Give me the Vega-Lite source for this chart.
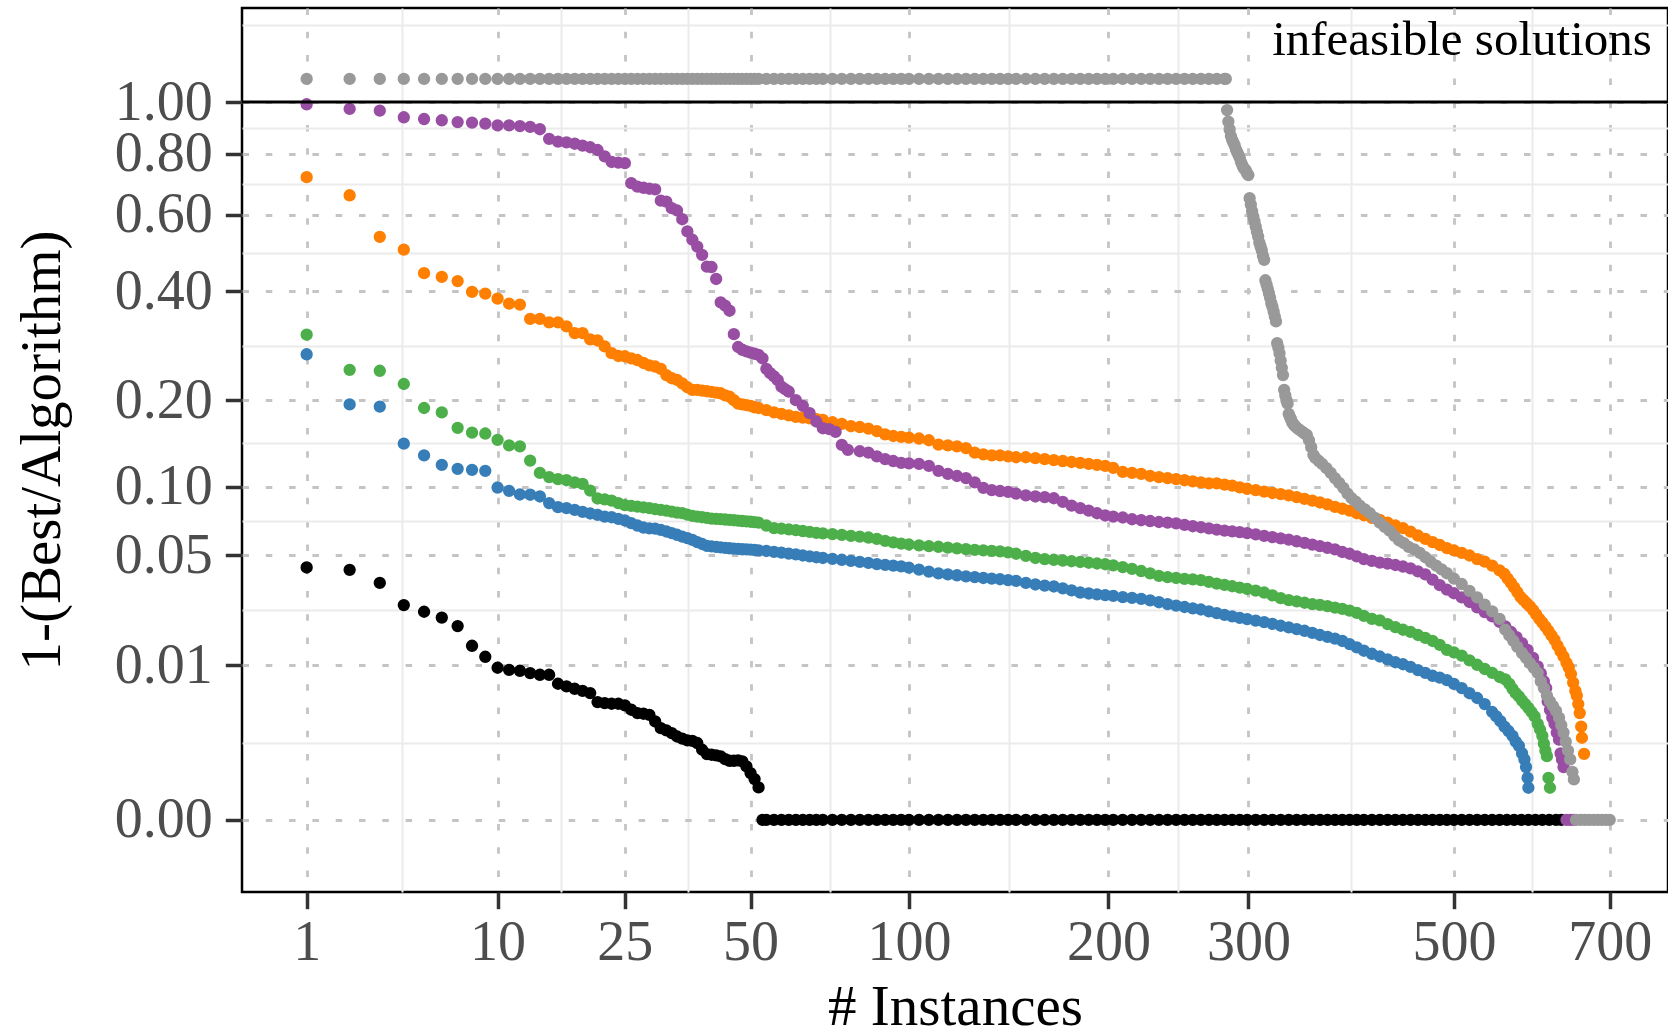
{
"$schema":"https://vega.github.io/schema/vega-lite/v6.json",
"width":1426,"height":884,
"autosize":{"type":"none"},
"padding":{"left":242,"top":8,"right":0,"bottom":141},
"background":"white",
"config":{"view":{"stroke":"#000000","strokeWidth":2.5}},
"datasets":{
"k":[{"x":1,"y":0.0435},{"x":2,"y":0.0423},{"x":3,"y":0.036},{"x":4,"y":0.0268},{"x":5,"y":0.0244},{"x":6,"y":0.0224},{"x":7,"y":0.0197},{"x":8,"y":0.01428},{"x":9,"y":0.01174},{"x":10,"y":0.00953},{"x":11,"y":0.00915},{"x":12,"y":0.00897},{"x":13,"y":0.00856},{"x":14,"y":0.00827},{"x":15,"y":0.00827},{"x":16,"y":0.00683},{"x":17,"y":0.00643},{"x":18,"y":0.0061},{"x":19,"y":0.00582},{"x":20,"y":0.00552},{"x":21,"y":0.00443},{"x":22,"y":0.00431},{"x":23,"y":0.00424},{"x":24,"y":0.00424},{"x":25,"y":0.00406},{"x":26,"y":0.00362},{"x":27,"y":0.0033},{"x":28,"y":0.00324},{"x":29,"y":0.00314},{"x":30,"y":0.00258},{"x":31,"y":0.00209},{"x":32,"y":0.00194},{"x":33,"y":0.00177},{"x":34,"y":0.00157},{"x":35,"y":0.00145},{"x":36,"y":0.00136},{"x":37,"y":0.00134},{"x":38,"y":0.00123},{"x":39,"y":0.000935},{"x":40,"y":0.000772},{"x":41,"y":0.00075},{"x":42,"y":0.000725},{"x":43,"y":0.000692},{"x":44,"y":0.00061},{"x":45,"y":0.00056},{"x":46,"y":0.00056},{"x":47,"y":0.00057},{"x":48,"y":0.00054},{"x":49,"y":0.000414},{"x":50,"y":0.000278},{"x":51,"y":0.000184},{"x":52,"y":0.000093},
{"x":53,"y":0},{"x":54,"y":0},{"x":56,"y":0},{"x":58,"y":0},{"x":60,"y":0},{"x":62,"y":0},{"x":64,"y":0},{"x":66,"y":0},{"x":68,"y":0},{"x":70,"y":0},{"x":73,"y":0},{"x":76,"y":0},{"x":79,"y":0},{"x":82,"y":0},{"x":85,"y":0},{"x":88,"y":0},{"x":91,"y":0},{"x":94,"y":0},{"x":97,"y":0},{"x":100,"y":0},{"x":104,"y":0},{"x":108,"y":0},{"x":112,"y":0},{"x":116,"y":0},{"x":120,"y":0},{"x":124,"y":0},{"x":128,"y":0},{"x":132,"y":0},{"x":136,"y":0},{"x":140,"y":0},{"x":144,"y":0},{"x":148,"y":0},{"x":153,"y":0},{"x":158,"y":0},{"x":163,"y":0},{"x":168,"y":0},{"x":173,"y":0},{"x":178,"y":0},{"x":183,"y":0},{"x":188,"y":0},{"x":193,"y":0},{"x":198,"y":0},{"x":203,"y":0},{"x":209,"y":0},{"x":215,"y":0},{"x":221,"y":0},{"x":227,"y":0},{"x":233,"y":0},{"x":239,"y":0},{"x":245,"y":0},{"x":251,"y":0},{"x":257,"y":0},{"x":263,"y":0},{"x":269,"y":0},{"x":275,"y":0},{"x":281,"y":0},{"x":287,"y":0},{"x":293,"y":0},{"x":299,"y":0},{"x":306,"y":0},{"x":313,"y":0},{"x":320,"y":0},{"x":327,"y":0},{"x":334,"y":0},{"x":341,"y":0},{"x":348,"y":0},{"x":355,"y":0},{"x":362,"y":0},{"x":369,"y":0},{"x":376,"y":0},{"x":383,"y":0},{"x":390,"y":0},{"x":397,"y":0},{"x":404,"y":0},{"x":412,"y":0},{"x":420,"y":0},{"x":428,"y":0},{"x":436,"y":0},{"x":444,"y":0},{"x":452,"y":0},{"x":460,"y":0},{"x":468,"y":0},{"x":476,"y":0},{"x":484,"y":0},{"x":492,"y":0},{"x":500,"y":0},{"x":509,"y":0},{"x":518,"y":0},{"x":527,"y":0},{"x":536,"y":0},{"x":545,"y":0},{"x":554,"y":0},{"x":563,"y":0},{"x":572,"y":0},{"x":581,"y":0},{"x":590,"y":0},{"x":599,"y":0},{"x":608,"y":0},{"x":617,"y":0},{"x":626,"y":0},{"x":633,"y":0}],
"b":[{"x":1,"y":0.273},{"x":2,"y":0.194},{"x":3,"y":0.191},{"x":4,"y":0.144},{"x":5,"y":0.131},{"x":6,"y":0.121},{"x":7,"y":0.117},{"x":8,"y":0.116},{"x":9,"y":0.115},{"x":10,"y":0.0993},{"x":11,"y":0.0964},{"x":12,"y":0.0932},{"x":13,"y":0.093},{"x":14,"y":0.0915},{"x":15,"y":0.086},{"x":16,"y":0.0827},{"x":17,"y":0.0819},{"x":18,"y":0.0806},{"x":19,"y":0.079},{"x":20,"y":0.0778},{"x":21,"y":0.0768},{"x":22,"y":0.0755},{"x":23,"y":0.075},{"x":24,"y":0.0738},{"x":25,"y":0.0726},{"x":26,"y":0.0707},{"x":27,"y":0.069},{"x":28,"y":0.0676},{"x":29,"y":0.067},{"x":30,"y":0.0668},{"x":31,"y":0.066},{"x":32,"y":0.0649},{"x":33,"y":0.0638},{"x":34,"y":0.0627},{"x":35,"y":0.0615},{"x":36,"y":0.0605},{"x":37,"y":0.0594},{"x":38,"y":0.058},{"x":39,"y":0.0568},{"x":40,"y":0.0557},{"x":41,"y":0.0553},{"x":42,"y":0.055},{"x":43,"y":0.0547},{"x":44,"y":0.0544},{"x":45,"y":0.0542},{"x":46,"y":0.054},{"x":47,"y":0.0538},{"x":48,"y":0.0536},{"x":49,"y":0.0535},{"x":50,"y":0.0534},{"x":51,"y":0.0532},{"x":52,"y":0.053},
{"x":54,"y":0.0526},{"x":56,"y":0.0521},{"x":58,"y":0.0516},{"x":60,"y":0.0511},{"x":62,"y":0.0506},{"x":64,"y":0.05},{"x":66,"y":0.0495},{"x":68,"y":0.049},{"x":70,"y":0.0486},{"x":73,"y":0.0481},{"x":76,"y":0.0476},{"x":79,"y":0.047},{"x":82,"y":0.0465},{"x":85,"y":0.0459},{"x":88,"y":0.0453},{"x":91,"y":0.0449},{"x":94,"y":0.0445},{"x":97,"y":0.0441},{"x":100,"y":0.0434},{"x":104,"y":0.0424},{"x":108,"y":0.0414},{"x":112,"y":0.0405},{"x":116,"y":0.04},{"x":120,"y":0.0396},{"x":124,"y":0.0391},{"x":128,"y":0.0387},{"x":132,"y":0.0383},{"x":136,"y":0.038},{"x":140,"y":0.0377},{"x":144,"y":0.0373},{"x":148,"y":0.0369},{"x":153,"y":0.036},{"x":158,"y":0.0353},{"x":163,"y":0.0348},{"x":168,"y":0.0344},{"x":173,"y":0.0336},{"x":178,"y":0.0327},{"x":183,"y":0.0318},{"x":188,"y":0.0314},{"x":193,"y":0.031},{"x":198,"y":0.0307},{"x":203,"y":0.0304},{"x":209,"y":0.0299},{"x":215,"y":0.0296},{"x":221,"y":0.0292},{"x":227,"y":0.0286},{"x":233,"y":0.0279},{"x":239,"y":0.0272},{"x":245,"y":0.0266},{"x":251,"y":0.0261},{"x":257,"y":0.0256},{"x":263,"y":0.0252},{"x":269,"y":0.0245},{"x":275,"y":0.0239},{"x":281,"y":0.0233},{"x":287,"y":0.0228},{"x":293,"y":0.0223},{"x":299,"y":0.0219},{"x":306,"y":0.0214},{"x":313,"y":0.0209},{"x":320,"y":0.0204},{"x":327,"y":0.0198},{"x":334,"y":0.0193},{"x":341,"y":0.0188},{"x":348,"y":0.0183},{"x":355,"y":0.0177},{"x":362,"y":0.0171},{"x":369,"y":0.0166},{"x":376,"y":0.0161},{"x":383,"y":0.0155},{"x":390,"y":0.0147},{"x":397,"y":0.0139},{"x":404,"y":0.0131},{"x":412,"y":0.0124},{"x":420,"y":0.0118},{"x":428,"y":0.0112},{"x":436,"y":0.0106},{"x":444,"y":0.0102},{"x":452,"y":0.0097},{"x":460,"y":0.0091},{"x":468,"y":0.0086},{"x":476,"y":0.0081},{"x":484,"y":0.0078},{"x":492,"y":0.0074},{"x":500,"y":0.0068},{"x":509,"y":0.0062},{"x":518,"y":0.0055},{"x":527,"y":0.0049},{"x":536,"y":0.0042},{"x":545,"y":0.0034},{"x":550,"y":0.003},{"x":555,"y":0.0026},{"x":560,"y":0.0022},{"x":565,"y":0.0019},{"x":570,"y":0.0016},{"x":574,"y":0.0013},{"x":578,"y":0.0011},{"x":582,"y":0.0008},{"x":585,"y":0.0006},{"x":587,"y":0.0004},{"x":589,"y":0.0002},{"x":590,"y":0.00009}],
"g":[{"x":1,"y":0.309},{"x":2,"y":0.2465},{"x":3,"y":0.245},{"x":4,"y":0.224},{"x":5,"y":0.189},{"x":6,"y":0.183},{"x":7,"y":0.163},{"x":8,"y":0.157},{"x":9,"y":0.156},{"x":10,"y":0.1485},{"x":11,"y":0.142},{"x":12,"y":0.141},{"x":13,"y":0.1255},{"x":14,"y":0.113},{"x":15,"y":0.109},{"x":16,"y":0.107},{"x":17,"y":0.106},{"x":18,"y":0.104},{"x":19,"y":0.1026},{"x":20,"y":0.0966},{"x":21,"y":0.0898},{"x":22,"y":0.089},{"x":23,"y":0.088},{"x":24,"y":0.086},{"x":25,"y":0.0843},{"x":26,"y":0.0838},{"x":27,"y":0.0832},{"x":28,"y":0.0826},{"x":29,"y":0.082},{"x":30,"y":0.0812},{"x":31,"y":0.0806},{"x":32,"y":0.08},{"x":33,"y":0.0793},{"x":34,"y":0.0785},{"x":35,"y":0.0781},{"x":36,"y":0.077},{"x":37,"y":0.076},{"x":38,"y":0.0755},{"x":39,"y":0.075},{"x":40,"y":0.0745},{"x":41,"y":0.074},{"x":42,"y":0.0738},{"x":43,"y":0.0736},{"x":44,"y":0.0733},{"x":45,"y":0.073},{"x":46,"y":0.0728},{"x":47,"y":0.0725},{"x":48,"y":0.0722},{"x":49,"y":0.072},{"x":50,"y":0.0717},{"x":51,"y":0.0714},{"x":52,"y":0.0711},
{"x":54,"y":0.069},{"x":56,"y":0.0672},{"x":58,"y":0.0668},{"x":60,"y":0.0663},{"x":62,"y":0.0658},{"x":64,"y":0.0652},{"x":66,"y":0.0646},{"x":68,"y":0.064},{"x":70,"y":0.0636},{"x":73,"y":0.0631},{"x":76,"y":0.0626},{"x":79,"y":0.062},{"x":82,"y":0.0615},{"x":85,"y":0.0609},{"x":88,"y":0.06},{"x":91,"y":0.0588},{"x":94,"y":0.0578},{"x":97,"y":0.057},{"x":100,"y":0.0565},{"x":104,"y":0.056},{"x":108,"y":0.0555},{"x":112,"y":0.0551},{"x":116,"y":0.0546},{"x":120,"y":0.0541},{"x":124,"y":0.0537},{"x":128,"y":0.0533},{"x":132,"y":0.053},{"x":136,"y":0.0527},{"x":140,"y":0.0524},{"x":144,"y":0.0518},{"x":148,"y":0.051},{"x":153,"y":0.0498},{"x":158,"y":0.0486},{"x":163,"y":0.048},{"x":168,"y":0.0476},{"x":173,"y":0.0472},{"x":178,"y":0.0468},{"x":183,"y":0.0464},{"x":188,"y":0.046},{"x":193,"y":0.0456},{"x":198,"y":0.0452},{"x":203,"y":0.0446},{"x":209,"y":0.0437},{"x":215,"y":0.0428},{"x":221,"y":0.0417},{"x":227,"y":0.0405},{"x":233,"y":0.0393},{"x":239,"y":0.0387},{"x":245,"y":0.0383},{"x":251,"y":0.0379},{"x":257,"y":0.0376},{"x":263,"y":0.0373},{"x":269,"y":0.0365},{"x":275,"y":0.0357},{"x":281,"y":0.0351},{"x":287,"y":0.0345},{"x":293,"y":0.0339},{"x":299,"y":0.0333},{"x":306,"y":0.0326},{"x":313,"y":0.0318},{"x":320,"y":0.0306},{"x":327,"y":0.0295},{"x":334,"y":0.0287},{"x":341,"y":0.0282},{"x":348,"y":0.0277},{"x":355,"y":0.0272},{"x":362,"y":0.0269},{"x":369,"y":0.0264},{"x":376,"y":0.0259},{"x":383,"y":0.0254},{"x":390,"y":0.0248},{"x":397,"y":0.024},{"x":404,"y":0.023},{"x":412,"y":0.022},{"x":420,"y":0.0215},{"x":428,"y":0.0203},{"x":436,"y":0.0194},{"x":444,"y":0.0186},{"x":452,"y":0.018},{"x":460,"y":0.0171},{"x":468,"y":0.0163},{"x":476,"y":0.0155},{"x":484,"y":0.0145},{"x":492,"y":0.0133},{"x":500,"y":0.0127},{"x":509,"y":0.012},{"x":518,"y":0.011},{"x":527,"y":0.0101},{"x":536,"y":0.0093},{"x":545,"y":0.0086},{"x":554,"y":0.0079},{"x":561,"y":0.0075},{"x":566,"y":0.0068},{"x":570,"y":0.0061},{"x":574,"y":0.0055},{"x":578,"y":0.0051},{"x":582,"y":0.0046},{"x":586,"y":0.0042},{"x":590,"y":0.0038},{"x":594,"y":0.0034},{"x":598,"y":0.003},{"x":602,"y":0.0024},{"x":605,"y":0.002},{"x":608,"y":0.0016},{"x":610,"y":0.0012},{"x":612,"y":0.0009},{"x":614,"y":0.0007},{"x":616,"y":0.0002},{"x":618,"y":0.00009}],
"o":[{"x":1,"y":0.718},{"x":2,"y":0.659},{"x":3,"y":0.536},{"x":4,"y":0.5015},{"x":5,"y":0.442},{"x":6,"y":0.433},{"x":7,"y":0.423},{"x":8,"y":0.398},{"x":9,"y":0.394},{"x":10,"y":0.383},{"x":11,"y":0.372},{"x":12,"y":0.37},{"x":13,"y":0.34},{"x":14,"y":0.34},{"x":15,"y":0.333},{"x":16,"y":0.333},{"x":17,"y":0.325},{"x":18,"y":0.312},{"x":19,"y":0.312},{"x":20,"y":0.3},{"x":21,"y":0.298},{"x":22,"y":0.287},{"x":23,"y":0.275},{"x":24,"y":0.27},{"x":25,"y":0.2695},{"x":26,"y":0.266},{"x":27,"y":0.263},{"x":28,"y":0.258},{"x":29,"y":0.254},{"x":30,"y":0.252},{"x":31,"y":0.248},{"x":32,"y":0.238},{"x":33,"y":0.233},{"x":34,"y":0.2305},{"x":35,"y":0.225},{"x":36,"y":0.219},{"x":37,"y":0.215},{"x":38,"y":0.215},{"x":39,"y":0.214},{"x":40,"y":0.213},{"x":41,"y":0.212},{"x":42,"y":0.211},{"x":43,"y":0.21},{"x":44,"y":0.207},{"x":45,"y":0.205},{"x":46,"y":0.2},{"x":47,"y":0.195},{"x":48,"y":0.194},{"x":49,"y":0.193},{"x":50,"y":0.192},{"x":51,"y":0.19},{"x":52,"y":0.189},
{"x":54,"y":0.186},{"x":56,"y":0.183},{"x":58,"y":0.181},{"x":60,"y":0.179},{"x":62,"y":0.177},{"x":64,"y":0.176},{"x":66,"y":0.175},{"x":68,"y":0.174},{"x":70,"y":0.173},{"x":73,"y":0.17},{"x":76,"y":0.168},{"x":79,"y":0.165},{"x":82,"y":0.164},{"x":85,"y":0.162},{"x":88,"y":0.159},{"x":91,"y":0.155},{"x":94,"y":0.153},{"x":97,"y":0.152},{"x":100,"y":0.151},{"x":104,"y":0.15},{"x":108,"y":0.148},{"x":112,"y":0.143},{"x":116,"y":0.142},{"x":120,"y":0.141},{"x":124,"y":0.139},{"x":128,"y":0.134},{"x":132,"y":0.132},{"x":136,"y":0.131},{"x":140,"y":0.131},{"x":144,"y":0.13},{"x":148,"y":0.129},{"x":153,"y":0.129},{"x":158,"y":0.128},{"x":163,"y":0.127},{"x":168,"y":0.126},{"x":173,"y":0.125},{"x":178,"y":0.124},{"x":183,"y":0.123},{"x":188,"y":0.122},{"x":193,"y":0.121},{"x":198,"y":0.12},{"x":203,"y":0.118},{"x":209,"y":0.114},{"x":215,"y":0.113},{"x":221,"y":0.112},{"x":227,"y":0.11},{"x":233,"y":0.109},{"x":239,"y":0.108},{"x":245,"y":0.107},{"x":251,"y":0.106},{"x":257,"y":0.105},{"x":263,"y":0.104},{"x":269,"y":0.103},{"x":275,"y":0.103},{"x":281,"y":0.102},{"x":287,"y":0.101},{"x":293,"y":0.0995},{"x":299,"y":0.0982},{"x":306,"y":0.097},{"x":313,"y":0.0957},{"x":320,"y":0.0945},{"x":327,"y":0.0935},{"x":334,"y":0.0925},{"x":341,"y":0.091},{"x":348,"y":0.0895},{"x":355,"y":0.088},{"x":362,"y":0.0865},{"x":369,"y":0.085},{"x":376,"y":0.083},{"x":383,"y":0.0815},{"x":390,"y":0.08},{"x":397,"y":0.078},{"x":404,"y":0.0765},{"x":412,"y":0.0745},{"x":420,"y":0.073},{"x":428,"y":0.071},{"x":436,"y":0.069},{"x":444,"y":0.0672},{"x":452,"y":0.0648},{"x":460,"y":0.0622},{"x":468,"y":0.06},{"x":476,"y":0.058},{"x":484,"y":0.0562},{"x":492,"y":0.0543},{"x":500,"y":0.053},{"x":509,"y":0.0515},{"x":518,"y":0.05},{"x":527,"y":0.048},{"x":536,"y":0.0466},{"x":545,"y":0.0445},{"x":554,"y":0.042},{"x":560,"y":0.0402},{"x":564,"y":0.038},{"x":568,"y":0.036},{"x":572,"y":0.034},{"x":576,"y":0.032},{"x":580,"y":0.03},{"x":584,"y":0.0287},{"x":588,"y":0.0275},{"x":592,"y":0.0263},{"x":596,"y":0.025},{"x":600,"y":0.0235},{"x":604,"y":0.022},{"x":608,"y":0.0208},{"x":612,"y":0.0195},{"x":616,"y":0.0183},{"x":620,"y":0.017},{"x":624,"y":0.0158},{"x":628,"y":0.0143},{"x":632,"y":0.013},{"x":636,"y":0.0118},{"x":640,"y":0.0105},{"x":643,"y":0.0096},{"x":646,"y":0.0084},{"x":649,"y":0.007},{"x":652,"y":0.0058},{"x":654,"y":0.0052},{"x":656,"y":0.0042},{"x":658,"y":0.0033},{"x":660,"y":0.0022},{"x":661,"y":0.0015},{"x":664,"y":0.00078}],
"p":[{"x":1,"y":0.991},{"x":2,"y":0.972},{"x":3,"y":0.965},{"x":4,"y":0.938},{"x":5,"y":0.931},{"x":6,"y":0.926},{"x":7,"y":0.919},{"x":8,"y":0.917},{"x":9,"y":0.913},{"x":10,"y":0.906},{"x":11,"y":0.906},{"x":12,"y":0.903},{"x":13,"y":0.9},{"x":14,"y":0.891},{"x":15,"y":0.854},{"x":16,"y":0.844},{"x":17,"y":0.841},{"x":18,"y":0.836},{"x":19,"y":0.829},{"x":20,"y":0.823},{"x":21,"y":0.813},{"x":22,"y":0.79},{"x":23,"y":0.77},{"x":24,"y":0.768},{"x":25,"y":0.766},{"x":26,"y":0.698},{"x":27,"y":0.687},{"x":28,"y":0.683},{"x":29,"y":0.68},{"x":30,"y":0.678},{"x":31,"y":0.642},{"x":32,"y":0.639},{"x":33,"y":0.619},{"x":34,"y":0.612},{"x":35,"y":0.586},{"x":36,"y":0.551},{"x":37,"y":0.528},{"x":38,"y":0.5095},{"x":39,"y":0.488},{"x":40,"y":0.458},{"x":41,"y":0.457},{"x":42,"y":0.428},{"x":43,"y":0.375},{"x":44,"y":0.368},{"x":45,"y":0.357},{"x":46,"y":0.31},{"x":47,"y":0.286},{"x":48,"y":0.281},{"x":49,"y":0.278},{"x":50,"y":0.276},{"x":51,"y":0.274},{"x":52,"y":0.272},{"x":53,"y":0.266},{"x":54,"y":0.248},{"x":55,"y":0.241},{"x":56,"y":0.236},{"x":57,"y":0.23},{"x":58,"y":0.22},{"x":59,"y":0.216},{"x":60,"y":0.2126},{"x":62,"y":0.2},{"x":64,"y":0.192},{"x":66,"y":0.182},{"x":68,"y":0.171},{"x":70,"y":0.1625},{"x":72,"y":0.1613},{"x":74,"y":0.158},{"x":76,"y":0.1426},{"x":78,"y":0.137},
{"x":82,"y":0.1355},{"x":85,"y":0.134},{"x":88,"y":0.13},{"x":91,"y":0.127},{"x":94,"y":0.125},{"x":97,"y":0.123},{"x":100,"y":0.1225},{"x":104,"y":0.122},{"x":108,"y":0.12},{"x":112,"y":0.115},{"x":116,"y":0.112},{"x":120,"y":0.11},{"x":124,"y":0.108},{"x":128,"y":0.104},{"x":132,"y":0.099},{"x":136,"y":0.097},{"x":140,"y":0.0962},{"x":144,"y":0.0955},{"x":148,"y":0.094},{"x":153,"y":0.0925},{"x":158,"y":0.0915},{"x":163,"y":0.091},{"x":168,"y":0.09},{"x":173,"y":0.087},{"x":178,"y":0.084},{"x":183,"y":0.082},{"x":188,"y":0.08},{"x":193,"y":0.078},{"x":198,"y":0.0763},{"x":203,"y":0.0755},{"x":209,"y":0.0748},{"x":215,"y":0.0735},{"x":221,"y":0.0728},{"x":227,"y":0.0722},{"x":233,"y":0.0715},{"x":239,"y":0.071},{"x":245,"y":0.0705},{"x":251,"y":0.0695},{"x":257,"y":0.0685},{"x":263,"y":0.0678},{"x":269,"y":0.067},{"x":275,"y":0.0662},{"x":281,"y":0.0655},{"x":287,"y":0.065},{"x":293,"y":0.0645},{"x":299,"y":0.0638},{"x":306,"y":0.063},{"x":313,"y":0.062},{"x":320,"y":0.0612},{"x":327,"y":0.0604},{"x":334,"y":0.0595},{"x":341,"y":0.0585},{"x":348,"y":0.0575},{"x":355,"y":0.0564},{"x":362,"y":0.0555},{"x":369,"y":0.0545},{"x":376,"y":0.0535},{"x":383,"y":0.052},{"x":390,"y":0.051},{"x":397,"y":0.0495},{"x":404,"y":0.048},{"x":412,"y":0.047},{"x":420,"y":0.0461},{"x":428,"y":0.0455},{"x":436,"y":0.0448},{"x":444,"y":0.044},{"x":452,"y":0.043},{"x":460,"y":0.0415},{"x":468,"y":0.04},{"x":476,"y":0.0375},{"x":484,"y":0.035},{"x":492,"y":0.033},{"x":500,"y":0.0315},{"x":509,"y":0.0298},{"x":518,"y":0.028},{"x":527,"y":0.026},{"x":536,"y":0.0243},{"x":545,"y":0.0228},{"x":554,"y":0.021},{"x":561,"y":0.0196},{"x":568,"y":0.018},{"x":575,"y":0.0165},{"x":582,"y":0.0149},{"x":589,"y":0.0133},{"x":596,"y":0.0115},{"x":602,"y":0.0098},{"x":606,"y":0.0085},{"x":610,"y":0.0072},{"x":613,"y":0.0062},{"x":615,"y":0.0045},{"x":618,"y":0.0036},{"x":621,"y":0.0029},{"x":624,"y":0.0024},{"x":627,"y":0.0018},{"x":630,"y":0.0014},{"x":632,"y":0.0008},{"x":634,"y":0.0006},{"x":636,"y":0.0004},{"x":640,"y":0},{"x":645,"y":0},{"x":650,"y":0}],
"r":[{"x":1,"y":1.1},{"x":2,"y":1.1},{"x":3,"y":1.1},{"x":4,"y":1.1},{"x":5,"y":1.1},{"x":6,"y":1.1},{"x":7,"y":1.1},{"x":8,"y":1.1},{"x":9,"y":1.1},{"x":10,"y":1.1},{"x":11,"y":1.1},{"x":12,"y":1.1},{"x":13,"y":1.1},{"x":14,"y":1.1},{"x":15,"y":1.1},{"x":16,"y":1.1},{"x":17,"y":1.1},{"x":18,"y":1.1},{"x":19,"y":1.1},{"x":20,"y":1.1},{"x":21,"y":1.1},{"x":22,"y":1.1},{"x":23,"y":1.1},{"x":24,"y":1.1},{"x":25,"y":1.1},{"x":26,"y":1.1},{"x":27,"y":1.1},{"x":28,"y":1.1},{"x":29,"y":1.1},{"x":30,"y":1.1},{"x":31,"y":1.1},{"x":32,"y":1.1},{"x":33,"y":1.1},{"x":34,"y":1.1},{"x":35,"y":1.1},{"x":36,"y":1.1},{"x":37,"y":1.1},{"x":38,"y":1.1},{"x":39,"y":1.1},{"x":40,"y":1.1},{"x":41,"y":1.1},{"x":42,"y":1.1},{"x":43,"y":1.1},{"x":44,"y":1.1},{"x":45,"y":1.1},{"x":46,"y":1.1},{"x":47,"y":1.1},{"x":48,"y":1.1},{"x":49,"y":1.1},{"x":50,"y":1.1},{"x":51,"y":1.1},{"x":52,"y":1.1},{"x":54,"y":1.1},{"x":56,"y":1.1},{"x":58,"y":1.1},{"x":60,"y":1.1},{"x":62,"y":1.1},{"x":64,"y":1.1},{"x":66,"y":1.1},{"x":68,"y":1.1},{"x":70,"y":1.1},{"x":73,"y":1.1},{"x":76,"y":1.1},{"x":79,"y":1.1},{"x":82,"y":1.1},{"x":85,"y":1.1},{"x":88,"y":1.1},{"x":91,"y":1.1},{"x":94,"y":1.1},{"x":97,"y":1.1},{"x":100,"y":1.1},{"x":104,"y":1.1},{"x":108,"y":1.1},{"x":112,"y":1.1},{"x":116,"y":1.1},{"x":120,"y":1.1},{"x":124,"y":1.1},{"x":128,"y":1.1},{"x":132,"y":1.1},{"x":136,"y":1.1},{"x":140,"y":1.1},{"x":144,"y":1.1},{"x":148,"y":1.1},{"x":153,"y":1.1},{"x":158,"y":1.1},{"x":163,"y":1.1},{"x":168,"y":1.1},{"x":173,"y":1.1},{"x":178,"y":1.1},{"x":183,"y":1.1},{"x":188,"y":1.1},{"x":193,"y":1.1},{"x":198,"y":1.1},{"x":203,"y":1.1},{"x":209,"y":1.1},{"x":215,"y":1.1},{"x":221,"y":1.1},{"x":227,"y":1.1},{"x":233,"y":1.1},{"x":239,"y":1.1},{"x":245,"y":1.1},{"x":251,"y":1.1},{"x":257,"y":1.1},{"x":263,"y":1.1},{"x":269,"y":1.1},{"x":275,"y":1.1},{"x":281,"y":1.1},{"x":282,"y":1.1},
{"x":283,"y":0.967},{"x":284,"y":0.921},{"x":285,"y":0.89},{"x":286,"y":0.865},{"x":287,"y":0.85},{"x":288,"y":0.84},{"x":289,"y":0.83},{"x":290,"y":0.815},{"x":291,"y":0.805},{"x":292,"y":0.795},{"x":293,"y":0.785},{"x":294,"y":0.77},{"x":295,"y":0.76},{"x":296,"y":0.75},{"x":297,"y":0.745},{"x":298,"y":0.74},{"x":299,"y":0.73},{"x":300,"y":0.725},{"x":301,"y":0.65},{"x":302,"y":0.63},{"x":303,"y":0.61},{"x":304,"y":0.594},{"x":305,"y":0.58},{"x":306,"y":0.565},{"x":307,"y":0.55},{"x":308,"y":0.537},{"x":309,"y":0.52},{"x":310,"y":0.51},{"x":311,"y":0.5},{"x":312,"y":0.485},{"x":313,"y":0.475},{"x":314,"y":0.425},{"x":315,"y":0.415},{"x":316,"y":0.405},{"x":317,"y":0.395},{"x":318,"y":0.385},{"x":319,"y":0.373},{"x":320,"y":0.365},{"x":321,"y":0.355},{"x":322,"y":0.345},{"x":323,"y":0.335},{"x":324,"y":0.293},{"x":325,"y":0.285},{"x":326,"y":0.275},{"x":327,"y":0.262},{"x":328,"y":0.25},{"x":329,"y":0.238},{"x":330,"y":0.215},{"x":331,"y":0.207},{"x":332,"y":0.2},{"x":333,"y":0.195},{"x":334,"y":0.181},{"x":335,"y":0.177},{"x":336,"y":0.174},{"x":337,"y":0.17},{"x":338,"y":0.168},{"x":339,"y":0.166},{"x":340,"y":0.1646},{"x":342,"y":0.162},{"x":344,"y":0.16},{"x":346,"y":0.158},{"x":348,"y":0.156},{"x":350,"y":0.1544},{"x":352,"y":0.148},{"x":354,"y":0.14},{"x":356,"y":0.1316},{"x":358,"y":0.128},{"x":361,"y":0.125},{"x":364,"y":0.122},{"x":368,"y":0.1177},{"x":372,"y":0.113},{"x":376,"y":0.108},{"x":380,"y":0.1035},{"x":384,"y":0.099},{"x":388,"y":0.094},{"x":392,"y":0.09},{"x":396,"y":0.0872},{"x":400,"y":0.084},{"x":405,"y":0.081},{"x":410,"y":0.078},{"x":415,"y":0.0745},{"x":420,"y":0.071},{"x":425,"y":0.068},{"x":430,"y":0.0655},{"x":435,"y":0.062},{"x":440,"y":0.059},{"x":445,"y":0.0573},{"x":450,"y":0.055},{"x":456,"y":0.0535},{"x":462,"y":0.0515},{"x":468,"y":0.049},{"x":474,"y":0.0465},{"x":480,"y":0.0445},{"x":486,"y":0.0425},{"x":492,"y":0.0406},{"x":500,"y":0.038},{"x":509,"y":0.0355},{"x":518,"y":0.0325},{"x":527,"y":0.0298},{"x":536,"y":0.027},{"x":545,"y":0.0245},{"x":554,"y":0.022},{"x":561,"y":0.0186},{"x":566,"y":0.017},{"x":571,"y":0.0155},{"x":576,"y":0.014},{"x":582,"y":0.01255},{"x":587,"y":0.0115},{"x":592,"y":0.0104},{"x":597,"y":0.0095},{"x":602,"y":0.0086},{"x":606,"y":0.0072},{"x":610,"y":0.0062},{"x":614,"y":0.0052},{"x":618,"y":0.0045},{"x":622,"y":0.004},{"x":626,"y":0.0035},{"x":630,"y":0.0029},{"x":633,"y":0.0023},{"x":636,"y":0.0018},{"x":639,"y":0.0013},{"x":642,"y":0.0009},{"x":645,"y":0.0006},{"x":648,"y":0.0003},{"x":650,"y":0.00018},{"x":653,"y":0},{"x":659,"y":0},{"x":665,"y":0},{"x":671,"y":0},{"x":677,"y":0},{"x":683,"y":0},{"x":689,"y":0},{"x":695,"y":0},{"x":700,"y":0}]
},
"resolve":{"axis":{"x":"independent","y":"independent"}},
"layer":[
{"data":{"name":"k"},"mark":{"type":"circle","size":152,"opacity":1,"color":"#000000"},
"encoding":{
"x":{"field":"x","type":"quantitative","scale":{"type":"pow","exponent":0.3333333333,"domain":[0.2259,786.7],"nice":false,"zero":false},
"axis":{"orient":"top","values":[3.92,16.37,36.07,72.15,144.3,246.6,391.6,594.4],"grid":true,"gridColor":"#EBEBEB","gridWidth":2,"labels":false,"ticks":false,"domain":false,"title":null}},
"y":{"field":"y","type":"quantitative","scale":{"type":"pow","exponent":0.3333333333,"domain":[-0.001012,1.4472],"nice":false,"zero":false},
"axis":{"orient":"right","values":[0.001249,0.02487,0.07215,0.1443,0.2885,0.4932,0.6952,0.8963,1.36],"grid":true,"gridColor":"#EBEBEB","gridWidth":2,"labels":false,"ticks":false,"domain":false,"title":null}}}},
{"data":{"name":"b"},"mark":{"type":"circle","size":152,"opacity":1,"color":"#377EB8"},
"encoding":{
"x":{"field":"x","type":"quantitative","scale":{"type":"pow","exponent":0.3333333333,"domain":[0.2259,786.7],"nice":false,"zero":false},
"axis":{"orient":"bottom","values":[1,10,25,50,100,200,300,500,700],"format":"d","grid":true,"gridColor":"#C4C4C4","gridWidth":2.8,"gridDash":[6.5,16.8],"domain":false,"tickColor":"#333333","tickSize":16.7,"tickWidth":3.5,"labelFont":"Liberation Serif","labelFontSize":56,"labelColor":"#4D4D4D","labelPadding":7,"labelOverlap":false,"labelFlush":false,"title":"# Instances","titleFont":"Liberation Serif","titleFontSize":57,"titleFontWeight":"normal","titleColor":"#000000","titlePadding":9}},
"y":{"field":"y","type":"quantitative","scale":{"type":"pow","exponent":0.3333333333,"domain":[-0.001012,1.4472],"nice":false,"zero":false},
"axis":{"orient":"left","values":[0,0.01,0.05,0.1,0.2,0.4,0.6,0.8,1],"format":".2f","grid":true,"gridColor":"#C4C4C4","gridWidth":2.8,"gridDash":[6.5,16.8],"domain":false,"tickColor":"#333333","tickSize":16.7,"tickWidth":3.5,"labelFont":"Liberation Serif","labelFontSize":56,"labelColor":"#4D4D4D","labelPadding":13,"labelOverlap":false,"labelFlush":false,"title":"1-(Best/Algorithm)","titleFont":"Liberation Serif","titleFontSize":57,"titleFontWeight":"normal","titleColor":"#000000","titlePadding":43}}}},
{"data":{"name":"g"},"mark":{"type":"circle","size":152,"opacity":1,"color":"#4DAF4A"},
"encoding":{"x":{"field":"x","type":"quantitative","axis":null},"y":{"field":"y","type":"quantitative","axis":null}}},
{"data":{"name":"o"},"mark":{"type":"circle","size":152,"opacity":1,"color":"#FF7F00"},
"encoding":{"x":{"field":"x","type":"quantitative","axis":null},"y":{"field":"y","type":"quantitative","axis":null}}},
{"data":{"name":"p"},"mark":{"type":"circle","size":152,"opacity":1,"color":"#984EA3"},
"encoding":{"x":{"field":"x","type":"quantitative","axis":null},"y":{"field":"y","type":"quantitative","axis":null}}},
{"data":{"name":"r"},"mark":{"type":"circle","size":152,"opacity":1,"color":"#999999"},
"encoding":{"x":{"field":"x","type":"quantitative","axis":null},"y":{"field":"y","type":"quantitative","axis":null}}},
{"data":{"values":[{}]},"mark":{"type":"rule","color":"#000000","strokeWidth":3},
"encoding":{"y":{"datum":1,"type":"quantitative","axis":null}}},
{"data":{"values":[{}]},"mark":{"type":"text","font":"Liberation Serif","fontSize":49,"align":"right","baseline":"alphabetic","color":"#000000"},
"encoding":{"x":{"datum":762,"type":"quantitative","axis":null},"y":{"datum":1.21,"type":"quantitative","axis":null},"text":{"value":"infeasible solutions"}}}
]
}
